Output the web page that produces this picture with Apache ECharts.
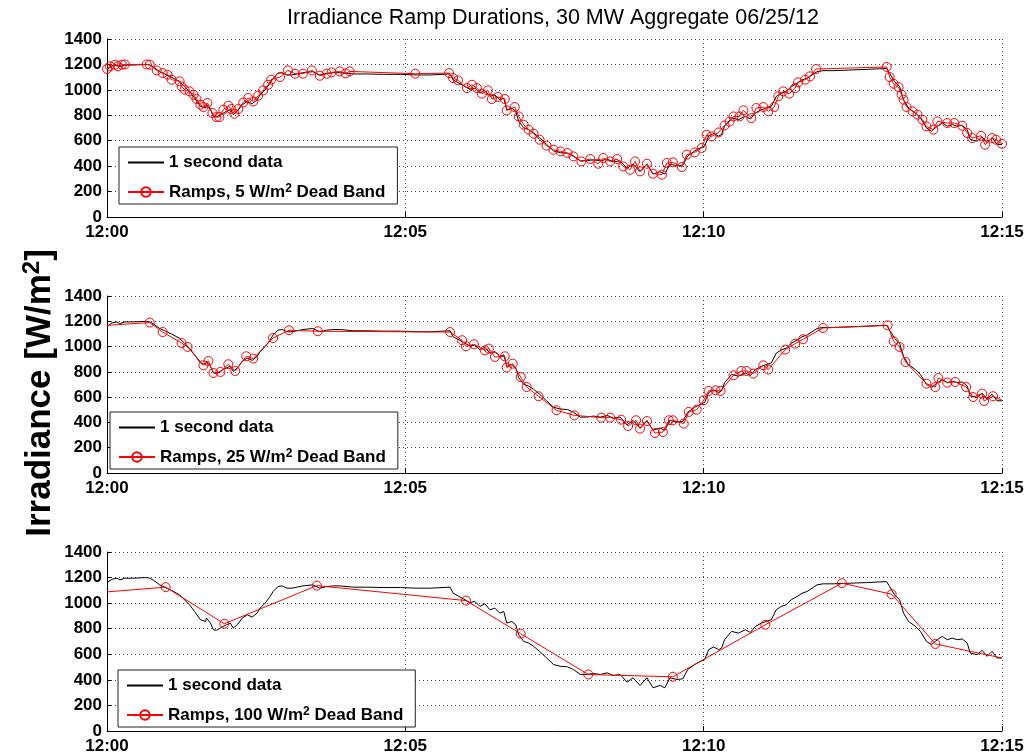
<!DOCTYPE html>
<html>
<head>
<meta charset="utf-8">
<script src="https://cdn.jsdelivr.net/npm/echarts@6/dist/echarts.min.js"></script>
<style>
  html, body { margin: 0; padding: 0; background: #fff; }
  #chart { width: 1029px; height: 755px; }
</style>
</head>
<body>
<div id="chart"></div>
<script>
// Time axis in seconds after 12:00, irradiance in W/m^2
const xTickLabels = ['12:00', '12:05', '12:10', '12:15'];

// 1 second irradiance record, [seconds, W/m^2]
const secondData = [
  [0,1160],[5,1187],[10,1195],[13,1182],[18,1195],[26,1195],[40,1200],[43,1195],[47,1177],[53,1143],
  [58,1125],[65,1099],[73,1065],[78,1026],[83,987],[88,935],[94,870],[99,857],[100,883],[104,844],
  [107,792],[110,787],[114,805],[117,818],[120,831],[124,844],[127,805],[131,831],[136,883],[141,909],
  [146,891],[151,922],[154,961],[159,1000],[164,1052],[167,1091],[172,1130],[176,1135],[181,1117],[186,1117],
  [191,1125],[197,1135],[207,1143],[214,1117],[221,1130],[228,1135],[234,1135],[248,1125],[261,1125],[278,1122],
  [295,1122],[311,1117],[325,1117],[345,1125],[348,1078],[353,1057],[360,1026],[365,1005],[370,1013],[375,974],
  [380,995],[385,948],[390,961],[395,922],[399,935],[402,844],[407,857],[411,831],[414,753],[419,701],
  [424,688],[429,662],[435,623],[442,572],[449,520],[456,506],[463,502],[469,481],[476,442],[482,442],
  [489,450],[496,442],[503,455],[509,434],[516,442],[523,382],[529,416],[536,356],[543,416],[549,338],
  [556,356],[561,338],[566,416],[573,403],[579,408],[584,481],[591,520],[597,545],[601,558],[605,636],
  [610,657],[615,636],[618,649],[621,714],[628,779],[635,766],[642,792],[647,771],[652,818],[658,844],
  [663,857],[668,870],[673,948],[678,974],[683,987],[688,1026],[694,1052],[699,1078],[704,1091],[709,1117],
  [714,1143],[720,1151],[730,1151],[747,1156],[764,1161],[777,1166],[784,1168],[787,1130],[792,1065],[797,1026],
  [801,922],[806,857],[813,818],[818,779],[824,701],[829,675],[835,714],[840,740],[845,714],[850,727],
  [855,714],[860,720],[865,688],[868,610],[875,597],[880,631],[885,584],[890,623],[895,571],[900,571]
];

// Ramp end points, 5 W/m^2 dead band
const ramps5 = [
  [0,1164],[3,1185],[8,1198],[11,1185],[15,1198],[18,1200],[40,1200],[43,1198],[50,1153],[56,1132],
  [61,1119],[65,1080],[73,1067],[75,1027],[78,1001],[83,988],[87,962],[90,928],[94,883],[97,865],
  [101,897],[106,818],[110,786],[113,786],[117,844],[122,875],[125,849],[128,812],[132,849],[137,901],
  [142,936],[147,909],[152,954],[157,996],[162,1040],[165,1080],[174,1101],[182,1153],[189,1127],[197,1127],
  [206,1153],[214,1111],[221,1127],[226,1137],[234,1145],[240,1130],[244,1145],[310,1127],[344,1132],[348,1093],
  [353,1075],[362,1014],[367,1040],[372,1014],[377,970],[383,996],[387,928],[393,944],[400,928],[402,838],
  [410,865],[414,791],[419,726],[424,687],[429,655],[435,608],[442,561],[449,529],[456,516],[463,503],
  [469,477],[477,437],[486,456],[494,419],[499,464],[506,437],[513,456],[519,398],[526,372],[531,437],
  [536,359],[543,419],[549,341],[558,333],[563,425],[569,430],[578,393],[583,490],[591,508],[598,543],
  [603,647],[608,634],[615,665],[621,720],[626,750],[630,791],[636,791],[640,839],[648,778],[653,857],
  [660,865],[665,831],[671,865],[675,949],[680,988],[686,970],[692,1014],[695,1059],[702,1080],[707,1106],
  [713,1164],[784,1180],[787,1101],[791,1048],[796,1022],[799,962],[801,923],[804,865],[810,831],[815,805],
  [820,765],[824,713],[831,687],[835,752],[845,739],[852,739],[860,718],[865,661],[870,621],[879,639],
  [883,569],[890,621],[894,608],[900,576]
];

// Ramp end points, 25 W/m^2 dead band
const ramps25 = [
  [0,1168],[43,1190],[56,1115],[75,1028],[81,997],[97,852],[102,886],[107,791],[114,799],[122,860],
  [129,807],[140,923],[147,905],[167,1068],[183,1129],[212,1121],[345,1115],[357,1050],[361,1002],[369,1018],
  [380,970],[384,984],[390,918],[400,923],[402,834],[408,865],[416,759],[422,680],[434,607],[452,496],
  [470,456],[497,438],[506,438],[517,422],[524,372],[532,417],[536,351],[543,411],[551,316],[559,324],
  [565,417],[569,417],[580,391],[585,483],[593,501],[600,575],[605,649],[612,654],[617,649],[630,773],
  [638,807],[643,807],[650,786],[660,852],[665,818],[682,976],[692,1023],[700,1058],[720,1147],[785,1168],
  [791,1042],[797,997],[803,878],[824,707],[833,680],[836,751],[845,715],[853,720],[864,680],[871,601],
  [880,628],[882,570],[891,607],[900,575]
];

// Ramp end points, 100 W/m^2 dead band
const ramps100 = [
  [0,1088],[59,1125],[118,839],[211,1137],[361,1020],[416,761],[484,442],[569,424],[662,831],[739,1156],
  [789,1070],[833,681],[900,571]
];

const rampNames = [
  'Ramps, 5 W/m2 Dead Band',
  'Ramps, 25 W/m2 Dead Band',
  'Ramps, 100 W/m2 Dead Band'
];
const rampSets = [ramps5, ramps25, ramps100];
// panels 2 and 3: the window edges are cut points, not ramp ends
const markEdges = [true, false, false];

const FONT = '"Liberation Sans", Arial, Helvetica, sans-serif';

const panels = [
  { top: 39, height: 178, legendLeft: 119, legendTop: 147 },
  { top: 296, height: 177, legendLeft: 110, legendTop: 412 },
  { top: 552, height: 180, legendLeft: 118, legendTop: 670 }
];

const grid = panels.map(p => ({ left: 107, right: 27, top: p.top, height: p.height }));

const tickLabel = {
  fontFamily: FONT, fontWeight: 'bold', fontSize: 17, color: '#000'
};
const dotted = { show: true, lineStyle: { type: [1, 3], color: '#444', width: 1 } };

const xAxis = panels.map((p, i) => ({
  type: 'value', gridIndex: i, min: 0, max: 900, interval: 300,
  axisLine: { show: true, onZero: false, lineStyle: { color: '#000', width: 1 } },
  axisTick: { show: true, inside: true, length: 5, lineStyle: { color: '#000' } },
  axisLabel: Object.assign({ margin: 7, formatter: v => xTickLabels[Math.round(v / 300)] }, tickLabel),
  splitLine: dotted
}));

const yAxis = panels.map((p, i) => ({
  type: 'value', gridIndex: i, min: 0, max: 1400, interval: 200,
  axisLine: { show: true, onZero: false, lineStyle: { color: '#000', width: 1 } },
  axisTick: { show: true, inside: true, length: 4, lineStyle: { color: '#000' } },
  axisLabel: Object.assign({ margin: 5, formatter: v => String(v) }, tickLabel),
  splitLine: dotted
}));

const series = [];
panels.forEach((p, i) => {
  series.push({
    type: 'line', name: '1 second data', xAxisIndex: i, yAxisIndex: i,
    data: secondData, symbol: 'none', silent: true, z: 2,
    lineStyle: { color: '#000', width: 1 },
    itemStyle: { color: 'rgba(0,0,0,0)', borderWidth: 0 },
    emphasis: { disabled: true }
  });
  const pts = rampSets[i];
  const data = pts.map((d, k) => {
    const edge = (k === 0 || k === pts.length - 1);
    return (edge && !markEdges[i]) ? { value: d, symbol: 'none' } : d;
  });
  series.push({
    type: 'line', name: rampNames[i], xAxisIndex: i, yAxisIndex: i,
    data: data, symbol: 'circle', symbolSize: 9, showAllSymbol: true, silent: true, z: 3,
    lineStyle: { color: '#ff0000', width: 1 },
    itemStyle: { color: 'rgba(255,0,0,0)', borderColor: '#ff0000', borderWidth: 1 },
    emphasis: { disabled: true }
  });
});

function legendText(name) {
  const k = name.indexOf('W/m2');
  if (k < 0) return '{a|' + name + '}';
  return '{a|' + name.slice(0, k + 3) + '}{s|2}{a|' + name.slice(k + 4) + '}';
}

const legend = panels.map((p, i) => ({
  orient: 'vertical', left: p.legendLeft, top: p.legendTop,
  data: ['1 second data', rampNames[i]],
  backgroundColor: '#fff', borderColor: '#222', borderWidth: 1,
  padding: [7, 12, 1, 8], itemWidth: 36, itemHeight: 12, itemGap: 12,
  selectedMode: false,
  formatter: legendText,
  textStyle: {
    rich: {
      a: { fontFamily: FONT, fontWeight: 'bold', fontSize: 17, color: '#000', lineHeight: 18 },
      s: { fontFamily: FONT, fontWeight: 'bold', fontSize: 12, color: '#000', verticalAlign: 'top', lineHeight: 18, padding: [0, 0, 8, 0] }
    }
  }
}));

const chart = echarts.init(document.getElementById('chart'), null, { renderer: 'canvas' });
chart.setOption({
  animation: false,
  backgroundColor: '#fff',
  title: {
    text: 'Irradiance Ramp Durations, 30 MW Aggregate 06/25/12',
    left: 553, top: 7, textAlign: 'center', padding: 0,
    textStyle: { fontFamily: FONT, fontWeight: 'normal', fontSize: 21.5, color: '#000' }
  },
  grid: grid,
  xAxis: xAxis,
  yAxis: yAxis,
  legend: legend,
  series: series,
  graphic: [{
    type: 'text', x: 40, y: 393, rotation: Math.PI / 2,
    style: {
      text: '{a|Irradiance [W/m}{s|2}{a|]}',
      align: 'center', verticalAlign: 'middle',
      rich: {
        a: { fontFamily: FONT, fontWeight: 'bold', fontSize: 35, fill: '#000', lineHeight: 40 },
        s: { fontFamily: FONT, fontWeight: 'bold', fontSize: 24, fill: '#000', verticalAlign: 'top', lineHeight: 40 }
      }
    }
  }]
});
</script>
</body>
</html>
